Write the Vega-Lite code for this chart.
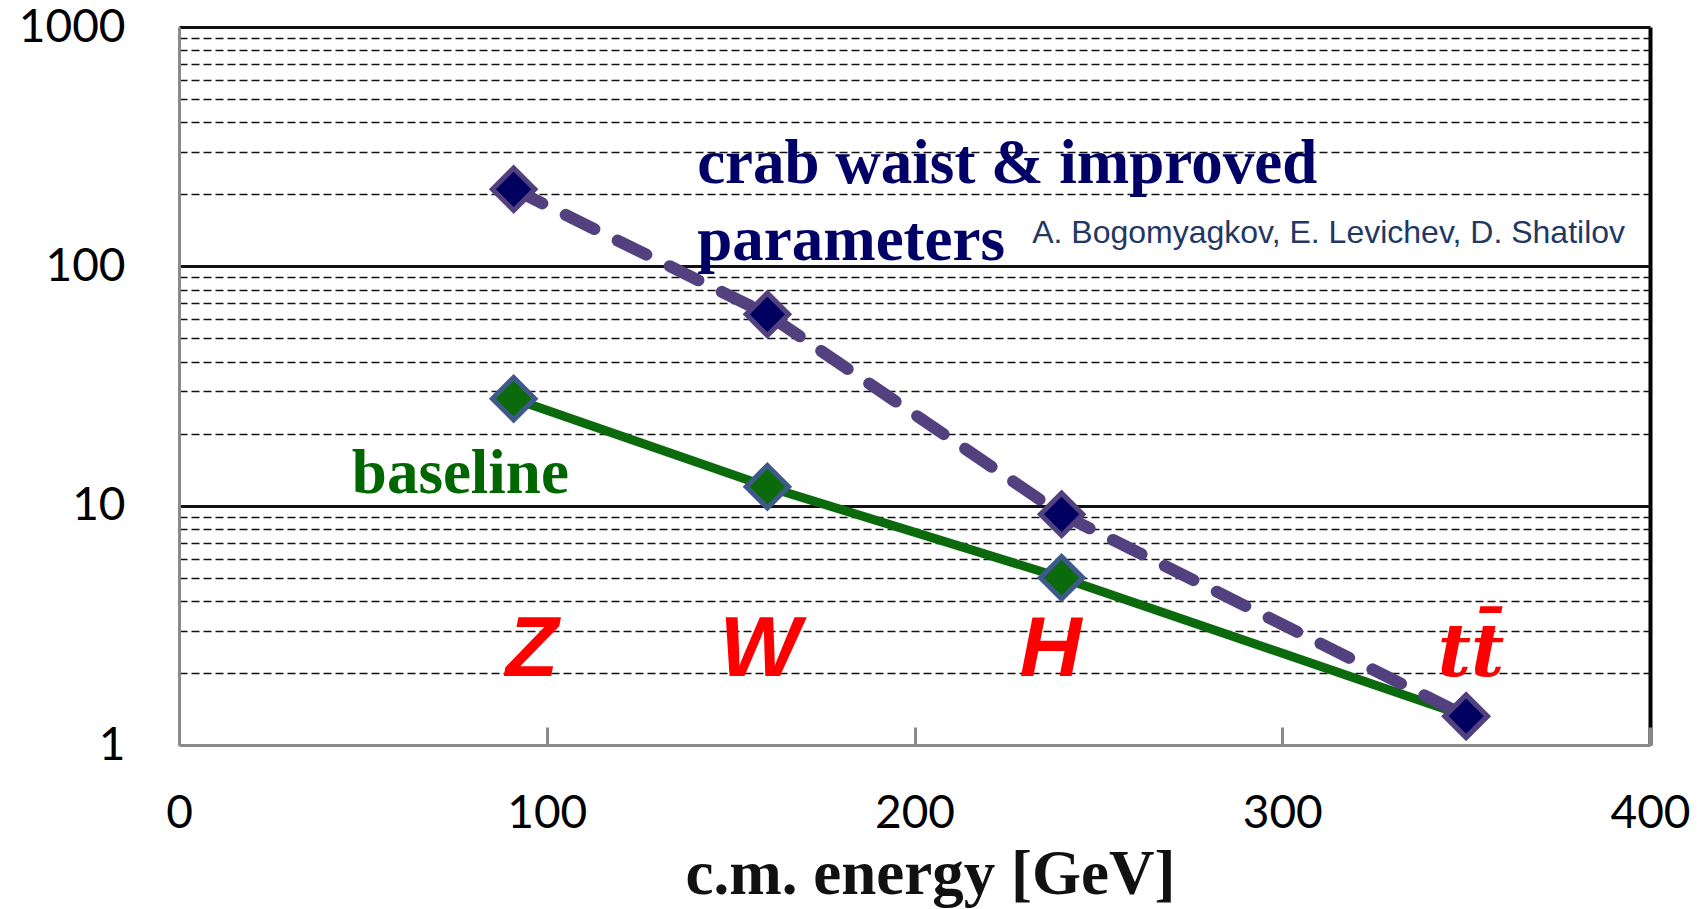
{
  "$schema": "https://vega.github.io/schema/vega-lite/v6.json",
  "width": 1471,
  "height": 718,
  "autosize": {"type": "none"},
  "padding": {"left": 179, "top": 27, "right": 52, "bottom": 164},
  "background": "white",
  "config": {"view": {"stroke": null}},
  "datasets": {
    "lumi": [
      {"series": "baseline", "energy": 91, "lumi": 28},
      {"series": "baseline", "energy": 160, "lumi": 12},
      {"series": "baseline", "energy": 240, "lumi": 5},
      {"series": "baseline", "energy": 350, "lumi": 1.32},
      {"series": "crab", "energy": 91, "lumi": 210},
      {"series": "crab", "energy": 160, "lumi": 63},
      {"series": "crab", "energy": 240, "lumi": 9.2},
      {"series": "crab", "energy": 350, "lumi": 1.32}
    ],
    "notes": [
      {"group": "crab", "text": "crab waist & improved", "energy": 140.9, "lumi": 223},
      {"group": "crab", "text": "parameters", "energy": 140.9, "lumi": 106},
      {"group": "authors", "text": "A. Bogomyagkov, E. Levichev, D. Shatilov", "energy": 232, "lumi": 125},
      {"group": "baseline", "text": "baseline", "energy": 47, "lumi": 11.3},
      {"group": "boson", "text": "Z", "energy": 96, "lumi": 1.94},
      {"group": "boson", "text": "W", "energy": 158, "lumi": 1.94},
      {"group": "boson", "text": "H", "energy": 237, "lumi": 1.94},
      {"group": "top", "text": "tt\u0304", "energy": 351.3, "lumi": 1.95}
    ]
  },
  "encoding": {
    "x": {
      "field": "energy",
      "type": "quantitative",
      "scale": {"domain": [0, 400], "nice": false, "zero": false},
      "axis": {
        "values": [0, 100, 200, 300, 400],
        "title": "c.m. energy [GeV]",
        "titleFont": "Liberation Serif",
        "titleFontWeight": "bold",
        "titleFontSize": 63,
        "titleColor": "#111111",
        "titleBaseline": "alphabetic",
        "titleY": 148,
        "titleX": 751,
        "labelFont": "Lato",
        "labelFontSize": 46,
        "labelColor": "#000000",
        "labelPadding": 64,
        "labelFlush": false,
        "labelOverlap": false,
        "domainColor": "#8a8a8a",
        "domainWidth": 3,
        "tickColor": "#8a8a8a",
        "tickWidth": 3,
        "tickSize": -18,
        "grid": true,
        "gridColor": {"condition": {"test": "datum.value == 400", "value": "#000000"}, "value": "transparent"},
        "gridWidth": 4
      }
    },
    "y": {
      "field": "lumi",
      "type": "quantitative",
      "scale": {"type": "log", "domain": [1, 1000], "nice": false},
      "axis": {
        "values": [1, 2, 3, 4, 5, 6, 7, 8, 9, 10, 20, 30, 40, 50, 60, 70, 80, 90, 100, 200, 300, 400, 500, 600, 700, 800, 900, 1000],
        "title": null,
        "labelExpr": "datum.value == 1 || datum.value == 10 || datum.value == 100 || datum.value == 1000 ? format(datum.value, 'd') : ''",
        "labelFont": "Lato",
        "labelFontSize": 46,
        "labelColor": "#000000",
        "labelPadding": 54,
        "labelOverlap": false,
        "labelFlush": false,
        "ticks": false,
        "domainColor": "#8a8a8a",
        "domainWidth": 3,
        "grid": true,
        "gridColor": {"condition": {"test": "datum.value == 1", "value": "transparent"}, "value": "#111111"},
        "gridWidth": {"condition": {"test": "datum.value == 10 || datum.value == 100 || datum.value == 1000", "value": 3}, "value": 1.4},
        "gridDash": {"condition": {"test": "datum.value == 10 || datum.value == 100 || datum.value == 1000", "value": []}, "value": [8, 4]}
      }
    }
  },
  "layer": [
    {
      "data": {"name": "lumi"},
      "transform": [{"filter": "datum.series == 'baseline'"}],
      "mark": {"type": "line", "color": "#0b6a0b", "strokeWidth": 9}
    },
    {
      "data": {"name": "lumi"},
      "transform": [{"filter": "datum.series == 'crab'"}],
      "mark": {"type": "line", "color": "#52407f", "strokeWidth": 12, "strokeDash": [32, 26], "strokeCap": "round"}
    },
    {
      "data": {"name": "lumi"},
      "transform": [{"filter": "datum.series == 'baseline'"}],
      "mark": {"type": "point", "shape": "diamond", "filled": true, "size": 1800, "fill": "#0b6a0b", "stroke": "#3d5a8a", "strokeWidth": 5, "opacity": 1}
    },
    {
      "data": {"name": "lumi"},
      "transform": [{"filter": "datum.series == 'crab'"}],
      "mark": {"type": "point", "shape": "diamond", "filled": true, "size": 1800, "fill": "#000060", "stroke": "#52407f", "strokeWidth": 5, "opacity": 1}
    },
    {
      "data": {"name": "notes"},
      "transform": [{"filter": "datum.group == 'crab'"}],
      "mark": {"type": "text", "align": "left", "baseline": "alphabetic", "font": "Liberation Serif", "fontWeight": "bold", "fontSize": 63, "color": "#000066"},
      "encoding": {"text": {"field": "text"}}
    },
    {
      "data": {"name": "notes"},
      "transform": [{"filter": "datum.group == 'authors'"}],
      "mark": {"type": "text", "align": "left", "baseline": "alphabetic", "font": "Liberation Sans", "fontSize": 32, "color": "#1f3864"},
      "encoding": {"text": {"field": "text"}}
    },
    {
      "data": {"name": "notes"},
      "transform": [{"filter": "datum.group == 'baseline'"}],
      "mark": {"type": "text", "align": "left", "baseline": "alphabetic", "font": "Liberation Serif", "fontWeight": "bold", "fontSize": 63, "color": "#006600"},
      "encoding": {"text": {"field": "text"}}
    },
    {
      "data": {"name": "notes"},
      "transform": [{"filter": "datum.group == 'boson'"}],
      "mark": {"type": "text", "align": "center", "baseline": "alphabetic", "font": "Liberation Sans", "fontWeight": "bold", "fontStyle": "italic", "fontSize": 86, "color": "#ff0000"},
      "encoding": {"text": {"field": "text"}}
    },
    {
      "data": {"name": "notes"},
      "transform": [{"filter": "datum.group == 'top'"}],
      "mark": {"type": "text", "align": "center", "baseline": "alphabetic", "font": "DejaVu Serif", "fontWeight": "bold", "fontStyle": "italic", "fontSize": 72, "color": "#ff0000"},
      "encoding": {"text": {"field": "text"}}
    }
  ]
}
